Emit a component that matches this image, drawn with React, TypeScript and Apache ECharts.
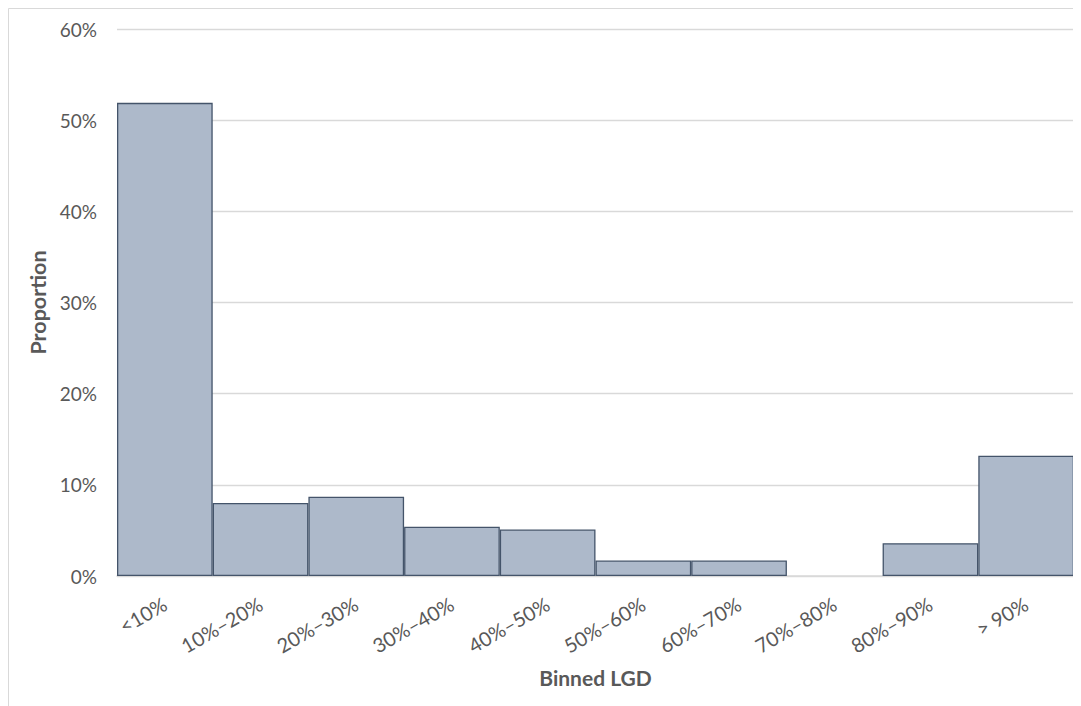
import React, { useEffect, useRef } from "react";
import * as echarts from "echarts";

const categories = ["<10%", "10%–20%", "20%–30%", "30%–40%", "40%–50%", "50%–60%", "60%–70%", "70%–80%", "80%–90%", "> 90%"];
const proportions = [0.519, 0.080, 0.087, 0.054, 0.051, 0.017, 0.017, 0, 0.036, 0.132];
const yTicks = { min: 0, max: 0.6, interval: 0.1 };

const FONT = "Lato, 'Open Sans', sans-serif";
const TEXT = "#595959";

export default function App() {
  const ref = useRef<HTMLDivElement>(null);
  useEffect(() => {
    document.body.style.overflow = "hidden";
    const chart = echarts.init(ref.current!, null, { renderer: "svg" });
    chart.setOption({
      animation: false,
      textStyle: { fontFamily: FONT },
      graphic: [
        {
          type: "rect",
          shape: { x: 0.5, y: 0.5, width: 1200, height: 900 },
          style: { fill: "none", stroke: "#d9d9d9", lineWidth: 1 },
          silent: true,
          z: -10,
        },
      ],
      grid: { left: 109, right: 7, top: 21, bottom: 130 },
      xAxis: {
        type: "category",
        data: categories,
        boundaryGap: true,
        axisTick: { show: false },
        axisLine: { lineStyle: { color: "#d9d9d9", width: 1.5 } },
        axisLabel: { rotate: 30, color: TEXT, fontSize: 20, fontFamily: FONT, margin: 26, interval: 0 },
        name: "Binned LGD",
        nameLocation: "middle",
        nameGap: 91,
        nameTextStyle: { color: TEXT, fontSize: 21, fontWeight: "bold", fontFamily: FONT },
      },
      yAxis: {
        type: "value",
        min: yTicks.min,
        max: yTicks.max,
        interval: yTicks.interval,
        axisLine: { show: false },
        axisTick: { show: false },
        splitLine: { lineStyle: { color: "#d9d9d9", width: 1.3 } },
        axisLabel: {
          color: TEXT,
          fontSize: 19,
          fontFamily: FONT,
          margin: 20,
          formatter: (v: number) => `${Math.round(v * 100)}%`,
        },
        name: "Proportion",
        nameLocation: "middle",
        nameGap: 62,
        nameTextStyle: { color: TEXT, fontSize: 21.5, fontWeight: "bold", fontFamily: FONT },
      },
      series: [
        {
          type: "bar",
          data: proportions.map((v) => (v === 0 ? { value: v, itemStyle: { borderWidth: 0 } } : v)),
          barCategoryGap: 0,
          barWidth: "100%",
          itemStyle: { color: "#adb9ca", borderColor: "#44546a", borderWidth: 1.3 },
        },
      ],
    });
    return () => chart.dispose();
  }, []);
  return <div ref={ref} style={{ width: 1073, height: 698 }} />;
}
